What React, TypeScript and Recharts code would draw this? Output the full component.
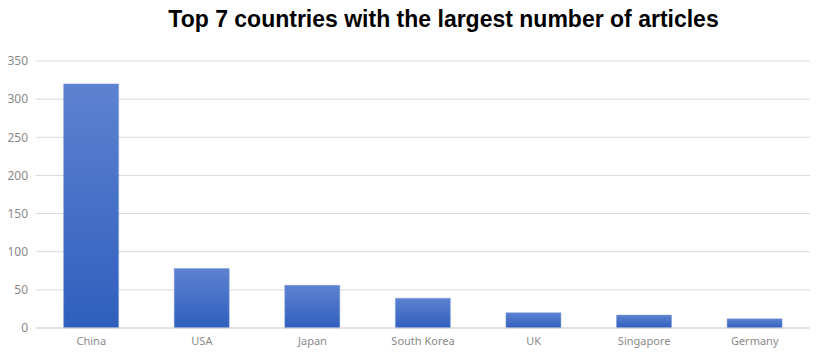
import React from "react";
import { BarChart, Bar, XAxis, YAxis, CartesianGrid } from "recharts";

const countries = ["China", "USA", "Japan", "South Korea", "UK", "Singapore", "Germany"];
const articles = [320, 78, 56, 39, 20, 17, 12];
const yTicks = [0, 50, 100, 150, 200, 250, 300, 350];

const data = countries.map((name, i) => ({ name, value: articles[i] }));

const tickStyle = { fill: "#8a8a8a", fontSize: 11, fontFamily: "'Noto Sans', sans-serif" };

export default function App() {
  return (
    <div style={{ position: "absolute", left: 0, top: 0, width: 825, height: 356, background: "#fff" }}>
      <div
        style={{
          position: "absolute",
          top: 6,
          left: 0,
          width: 887,
          textAlign: "center",
          fontFamily: "'Liberation Sans', Arial, sans-serif",
          fontWeight: "bold",
          fontSize: 23,
          color: "#000",
        }}
      >
        Top 7 countries with the largest number of articles
      </div>
      <BarChart
        width={825}
        height={356}
        data={data}
        margin={{ top: 61, right: 15, left: 0, bottom: 8 }}
        barCategoryGap="25%"
      >
        <defs>
          <linearGradient id="barFill" x1="0" y1="0" x2="0" y2="1">
            <stop offset="0%" stopColor="#5d82d0" />
            <stop offset="100%" stopColor="#2f5fbd" />
          </linearGradient>
        </defs>
        <CartesianGrid stroke="#d9d9d9" vertical={false} />
        <XAxis
          dataKey="name"
          tick={tickStyle}
          axisLine={{ stroke: "#d9d9d9" }}
          tickLine={false}
          height={20}
          tickMargin={3}
        />
        <YAxis
          domain={[0, 350]}
          ticks={yTicks}
          tick={{ ...tickStyle, fontSize: 12 }}
          axisLine={false}
          tickLine={false}
          width={36}
          tickMargin={2}
        />
        <Bar dataKey="value" fill="url(#barFill)" stroke="#7d9ad8" strokeWidth={0.5} isAnimationActive={false} />
      </BarChart>
    </div>
  );
}
